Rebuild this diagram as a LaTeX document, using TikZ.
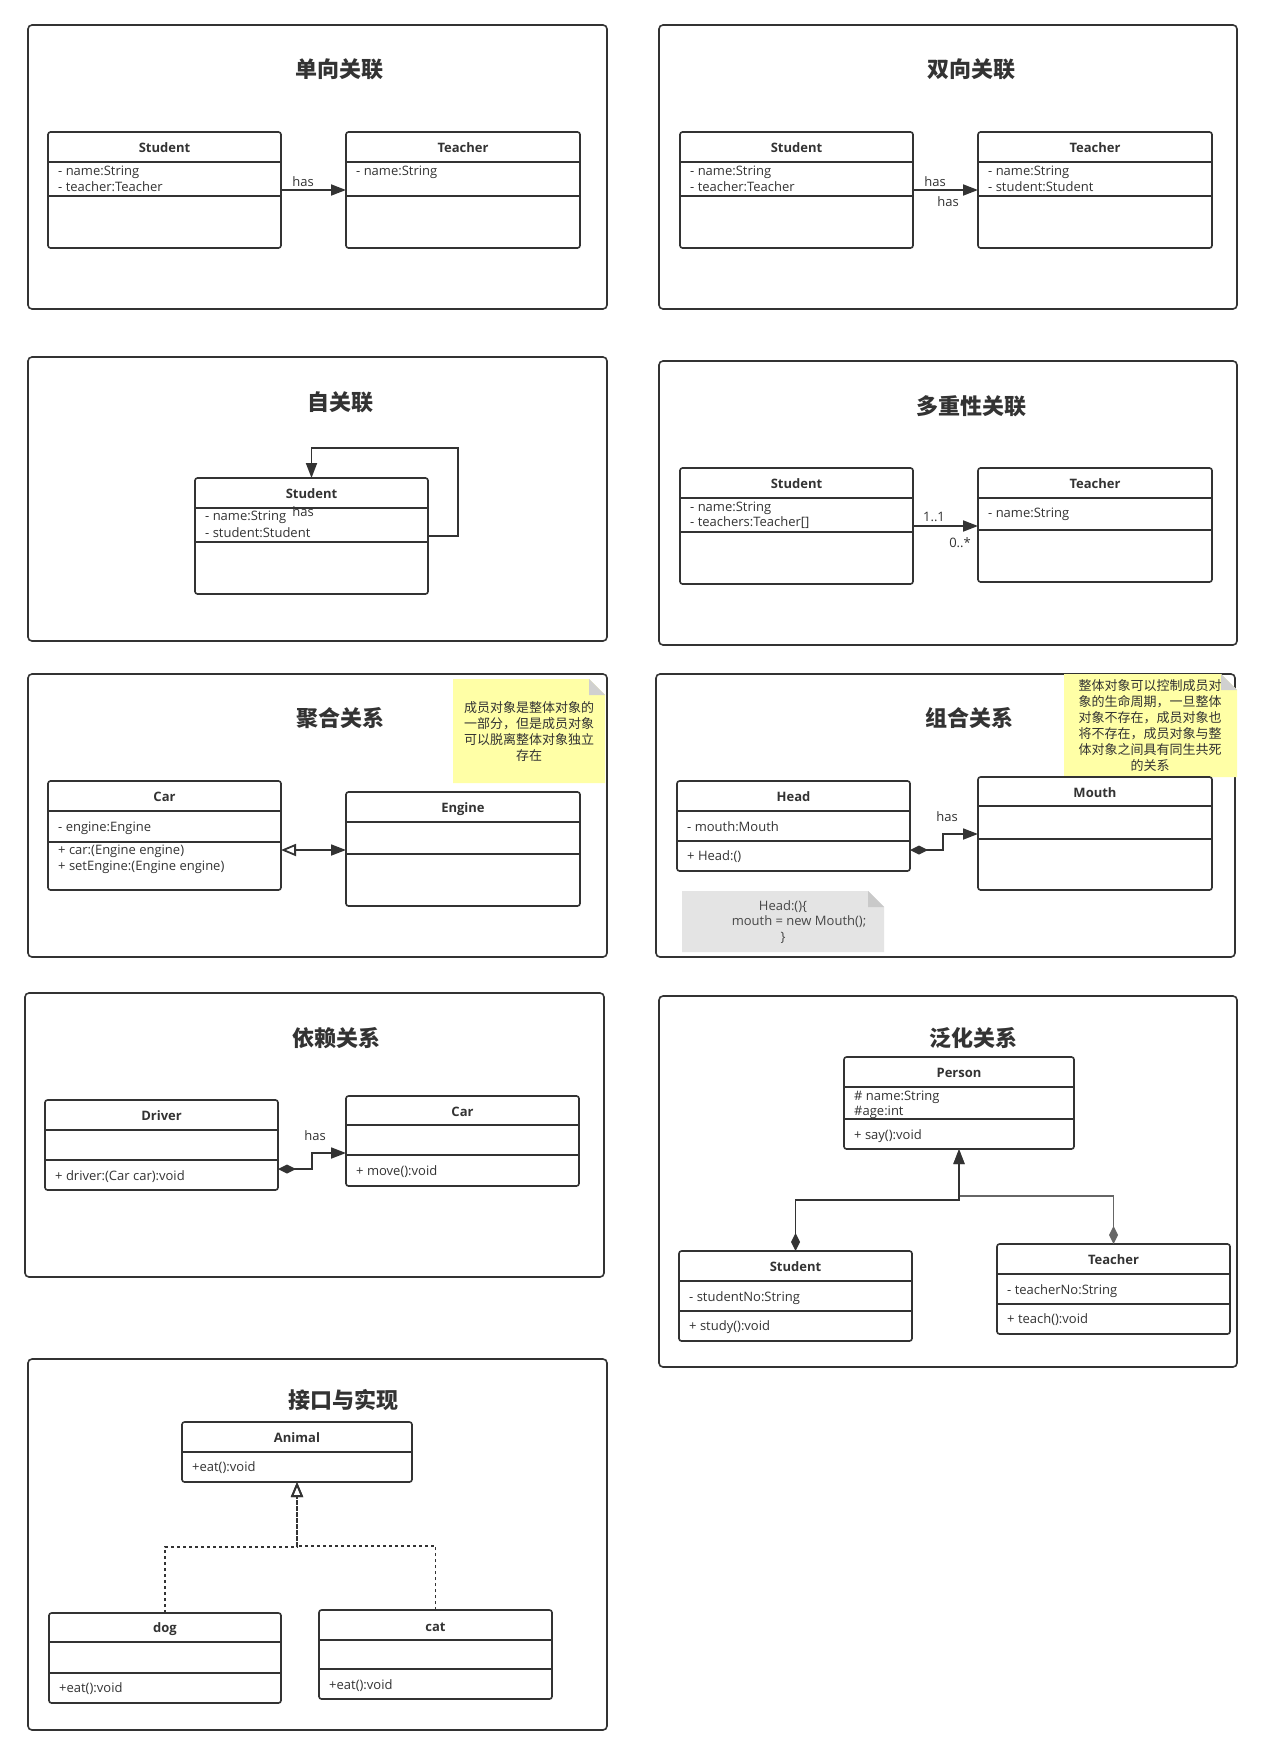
\documentclass[tikz,border=0pt]{standalone}
\usepackage{fontspec}
\setmainfont{Open Sans}
\newfontfamily\cjk{Noto Sans CJK SC}
\usetikzlibrary{arrows.meta}
\definecolor{ink}{HTML}{333333}
\definecolor{notey}{HTML}{FFFFA6}
\definecolor{notefold}{HTML}{D0D0D0}
\definecolor{noteg}{HTML}{E4E4E4}
\definecolor{notegfold}{HTML}{C9C9C9}
\tikzset{
  panel/.style={draw=ink, line width=1.6pt, rounded corners=4pt},
  clsbox/.style={draw=ink, line width=1.6pt, rounded corners=2.5pt, inner sep=0pt, outer sep=0pt, fill=white},
  sepline/.style={draw=ink, line width=1.6pt},
  conn/.style={draw=ink, line width=1.8pt},
  dotconn/.style={draw=ink, line width=1.8pt, dash pattern=on 3pt off 3pt},
  ttl/.style={font=\cjk\bfseries\fontsize{22}{26}\selectfont, text=ink, inner sep=0pt},
  cname/.style={font=\bfseries\fontsize{13}{15}\selectfont, text=ink, inner sep=0pt},
  attr/.style={font=\fontsize{13}{15}\selectfont, text=ink, inner sep=0pt, anchor=west},
  lbl/.style={font=\fontsize{13}{15}\selectfont, text=ink, inner sep=0pt},
  notetxt/.style={font=\cjk\fontsize{13}{16}\selectfont, text=ink, inner sep=0pt, align=center},
  codetxt/.style={font=\fontsize{13}{15}\selectfont, text=ink!90, inner sep=0pt},
  ftri/.tip={Triangle[length=15pt,width=11pt]},
  otri/.tip={Triangle[open,length=15pt,width=12pt]},
  dia/.tip={Diamond[length=18pt,width=9pt]},
}
\newcommand\cls[5]{\pgfmathsetmacro\bw{#4-#2}\pgfmathsetmacro\bh{#5-#3}%
  \node[clsbox, minimum width=\bw pt, minimum height=\bh pt, anchor=north west] (#1) at (#2,#3) {};}
\newcommand\csep[2]{\draw[sepline] (#1.west |- 0,#2) -- (#1.east |- 0,#2);}
\newcommand\cnm[3]{\node[cname] (#1-name) at (#1.north |- 0,#2) {#3};}
\newcommand\atr[4]{\node[attr, xshift=10pt] (#1-#2) at (#1.west |- 0,#3) {#4};}
\begin{document}
\begin{tikzpicture}[x=1pt,y=-1pt]
\fill[white] (0,0) rectangle (1263,1755);
\useasboundingbox (0,0) rectangle (1263,1755);

% ---------- panels ----------
\draw[panel] (28,25) rectangle (607,309);
\draw[panel] (659,25) rectangle (1237,309);
\draw[panel] (28,357) rectangle (607,641);
\draw[panel] (659,361) rectangle (1237,645);
\draw[panel] (28,674) rectangle (607,957);
\draw[panel] (656,674) rectangle (1235,957);
\draw[panel] (25,993) rectangle (604,1277);
\draw[panel] (659,996) rectangle (1237,1367);
\draw[panel] (28,1359) rectangle (607,1730);

% ---------- titles ----------
\node[ttl] (t1) at (339,69) {单向关联};
\node[ttl] (t2) at (971,69) {双向关联};
\node[ttl] (t3) at (340,402) {自关联};
\node[ttl] (t4) at (971,406) {多重性关联};
\node[ttl] (t5) at (340,718) {聚合关系};
\node[ttl] (t6) at (969,718) {组合关系};
\node[ttl] (t7) at (336,1038) {依赖关系};
\node[ttl] (t8) at (973,1038) {泛化关系};
\node[ttl] (t9) at (343,1400) {接口与实现};

% ---------- panel 1 ----------
\cls{s1}{48}{132}{281}{248}\csep{s1}{162}\csep{s1}{196}
\cnm{s1}{148}{Student}\atr{s1}{a}{172}{- name:String}\atr{s1}{b}{187}{- teacher:Teacher}
\cls{tc1}{346}{132}{580}{248}\csep{tc1}{162}\csep{tc1}{196}
\cnm{tc1}{148}{Teacher}\atr{tc1}{a}{172}{- name:String}
\draw[conn,-{ftri}] (s1.east |- 0,190) -- (tc1.west |- 0,190);
\node[lbl] (has1) at (303,182) {has};

% ---------- panel 2 ----------
\cls{s2}{680}{132}{913}{248}\csep{s2}{162}\csep{s2}{196}
\cnm{s2}{148}{Student}\atr{s2}{a}{172}{- name:String}\atr{s2}{b}{187}{- teacher:Teacher}
\cls{tc2}{978}{132}{1212}{248}\csep{tc2}{162}\csep{tc2}{196}
\cnm{tc2}{148}{Teacher}\atr{tc2}{a}{172}{- name:String}\atr{tc2}{b}{187}{- student:Student}
\draw[conn,-{ftri}] (s2.east |- 0,190) -- (tc2.west |- 0,190);
\node[lbl] (has2a) at (935,182) {has};
\node[lbl] (has2b) at (948,202) {has};

% ---------- panel 3 ----------
\cls{s3}{195}{478}{428}{594}\csep{s3}{508}\csep{s3}{542}
\cnm{s3}{494}{Student}\atr{s3}{a}{517}{- name:String}\atr{s3}{b}{533}{- student:Student}
\draw[conn,-{ftri}] (s3.east |- 0,536) -| (458,448) -| (s3.north);
\node[lbl] (has3) at (303,512) {has};

% ---------- panel 4 ----------
\cls{s4}{680}{468}{913}{584}\csep{s4}{498}\csep{s4}{532}
\cnm{s4}{484}{Student}\atr{s4}{a}{508}{- name:String}\atr{s4}{b}{523}{- teachers:Teacher[]}
\cls{tc4}{978}{468}{1212}{582}\csep{tc4}{498}\csep{tc4}{530}
\cnm{tc4}{484}{Teacher}\atr{tc4}{a}{514}{- name:String}
\draw[conn,-{ftri}] (s4.east |- 0,526) -- (tc4.west |- 0,526);
\node[lbl] (m4a) at (934,517) {1..1};
\node[lbl] (m4b) at (960,543) {0..*};

% ---------- panel 5 ----------
\fill[notey] (453,679) -- (589,679) -- (605,695) -- (605,783) -- (453,783) -- cycle;
\fill[notefold] (589,679) -- (589,695) -- (605,695) -- cycle;
\node[notetxt] (note5) at (529,732) {成员对象是整体对象的\\一部分，但是成员对象\\可以脱离整体对象独立\\存在};
\cls{car5}{48}{781}{281}{890}\csep{car5}{811}\csep{car5}{842}
\cnm{car5}{797}{Car}\atr{car5}{a}{828}{- engine:Engine}
\atr{car5}{b}{851}{+ car:(Engine engine)}\atr{car5}{c}{867}{+ setEngine:(Engine engine)}
\cls{eng5}{346}{792}{580}{906}\csep{eng5}{822}\csep{eng5}{854}
\cnm{eng5}{809}{Engine}
\draw[conn,{otri}-{ftri}] (car5.east |- 0,850) -- (eng5.west |- 0,850);

% ---------- panel 6 ----------
\fill[notey] (1064,674) -- (1221,674) -- (1237,690) -- (1237,777) -- (1064,777) -- cycle;
\fill[notefold] (1221,674) -- (1221,690) -- (1237,690) -- cycle;
\node[notetxt] (note6) at (1150,726) {整体对象可以控制成员对\\象的生命周期，一旦整体\\对象不存在，成员对象也\\将不存在，成员对象与整\\体对象之间具有同生共死\\的关系};
\cls{head6}{677}{781}{910}{871}\csep{head6}{811}\csep{head6}{841}
\cnm{head6}{797}{Head}\atr{head6}{a}{827}{- mouth:Mouth}\atr{head6}{b}{857}{+ Head:()}
\cls{mouth6}{978}{777}{1212}{890}\csep{mouth6}{806}\csep{mouth6}{839}
\cnm{mouth6}{793}{Mouth}
\draw[conn,{dia}-{ftri}] (head6.east |- 0,850) -- (943,850) |- (mouth6.west |- 0,834);
\node[lbl] (has6) at (947,817) {has};
\fill[noteg] (682,891) -- (868,891) -- (884,907) -- (884,952) -- (682,952) -- cycle;
\fill[notegfold] (868,891) -- (868,907) -- (884,907) -- cycle;
\node[codetxt] (code1) at (783,907) {Head:()\{};
\node[codetxt] (code2) at (799,922) {mouth = new Mouth();};
\node[codetxt] (code3) at (783,938) {\}};

% ---------- panel 7 ----------
\cls{drv7}{45}{1100}{278}{1190}\csep{drv7}{1130}\csep{drv7}{1160}
\cnm{drv7}{1116}{Driver}\atr{drv7}{a}{1177}{+ driver:(Car car):void}
\cls{car7}{346}{1096}{579}{1186}\csep{car7}{1125}\csep{car7}{1155}
\cnm{car7}{1112}{Car}\atr{car7}{a}{1172}{+ move():void}
\draw[conn,{dia}-{ftri}] (drv7.east |- 0,1169) -- (312,1169) |- (car7.west |- 0,1153);
\node[lbl] (has7) at (315,1136) {has};

% ---------- panel 8 ----------
\cls{per8}{844}{1057}{1074}{1149}\csep{per8}{1087}\csep{per8}{1119}
\cnm{per8}{1073}{Person}\atr{per8}{a}{1097}{\# name:String}\atr{per8}{b}{1112}{\#age:int}
\atr{per8}{c}{1136}{+ say():void}
\cls{stu8}{679}{1251}{912}{1341}\csep{stu8}{1281}\csep{stu8}{1311}
\cnm{stu8}{1267}{Student}\atr{stu8}{a}{1298}{- studentNo:String}\atr{stu8}{b}{1327}{+ study():void}
\cls{tea8}{997}{1244}{1230}{1334}\csep{tea8}{1274}\csep{tea8}{1304}
\cnm{tea8}{1260}{Teacher}\atr{tea8}{a}{1291}{- teacherNo:String}\atr{tea8}{b}{1320}{+ teach():void}
\draw[conn,draw=ink!75,{dia}-{ftri}] (tea8.north) |- (per8.south |- 0,1196) -- (per8.south);
\draw[conn,{dia}-{ftri}] (stu8.north) |- (per8.south |- 0,1200) -- (per8.south);

% ---------- panel 9 ----------
\cls{ani9}{182}{1422}{412}{1482}\csep{ani9}{1452}
\cnm{ani9}{1438}{Animal}\atr{ani9}{a}{1468}{+eat():void}
\cls{dog9}{49}{1613}{281}{1703}\csep{dog9}{1642}\csep{dog9}{1673}
\cnm{dog9}{1629}{dog}\atr{dog9}{a}{1689}{+eat():void}
\cls{cat9}{319}{1610}{552}{1699}\csep{cat9}{1640}\csep{cat9}{1669}
\cnm{cat9}{1627}{cat}\atr{cat9}{a}{1686}{+eat():void}
\draw[dotconn,-{otri}] (dog9.north) |- (ani9.south |- 0,1547) -- (ani9.south);
\draw[dotconn,-{otri}] (cat9.north) |- (ani9.south |- 0,1546) -- (ani9.south);
\end{tikzpicture}
\end{document}
